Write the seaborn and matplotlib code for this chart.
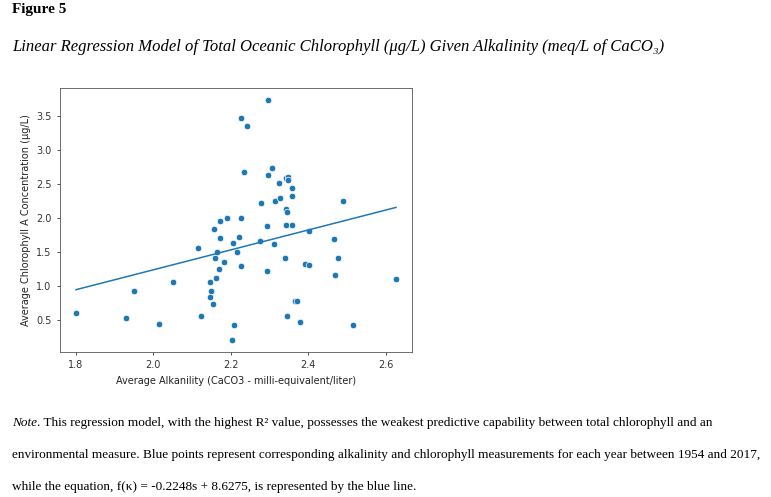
import numpy as np
import pandas as pd
import seaborn as sns
import matplotlib.pyplot as plt

# Alkalinity / chlorophyll readings, one per year
alkalinity = [1.80, 1.93, 1.95, 2.015, 2.05, 2.115, 2.123, 2.156, 2.147, 2.15,
              2.147, 2.153, 2.16, 2.164, 2.163, 2.169, 2.173, 2.173, 2.182, 2.19,
              2.203, 2.205, 2.209, 2.216, 2.221, 2.226, 2.226, 2.226, 2.233, 2.242,
              2.275, 2.279, 2.293, 2.293, 2.295, 2.295, 2.306, 2.311, 2.315, 2.325,
              2.326, 2.342, 2.349, 2.347, 2.342, 2.346, 2.343, 2.359, 2.357, 2.357,
              2.341, 2.345, 2.367, 2.370, 2.378, 2.393, 2.402, 2.403, 2.468, 2.478,
              2.469, 2.491, 2.517, 2.627]
chlorophyll = [0.60, 0.54, 0.93, 0.45, 1.06, 1.56, 0.57, 1.84, 1.07, 0.93,
               0.84, 0.745, 1.42, 1.51, 1.12, 1.25, 1.96, 1.71, 1.35, 2.01,
               0.21, 1.64, 0.43, 1.50, 1.72, 2.00, 1.30, 3.47, 2.68, 3.36,
               1.66, 2.22, 1.88, 1.22, 3.74, 2.63, 2.735, 1.62, 2.26, 2.515,
               2.30, 2.60, 2.61, 2.56, 2.14, 2.09, 1.90, 1.90, 2.44, 2.33,
               1.41, 0.57, 0.79, 0.78, 0.475, 1.33, 1.31, 1.82, 1.70, 1.41,
               1.16, 2.25, 0.43, 1.11]

# regression line end points
line_x = [1.80, 2.627]
line_y = [0.95, 2.16]

df = pd.DataFrame({'alk': alkalinity, 'chl': chlorophyll})
fit = pd.DataFrame({'alk': line_x, 'chl': line_y})

W, H = 771, 497
fig = plt.figure(figsize=(W / 100, H / 100), dpi=100)
ax = fig.add_axes([60 / W, 1 - 352 / H, 352 / W, 264 / H])

sns.scatterplot(data=df, x='alk', y='chl', ax=ax, s=22, color='#1f77b4',
                edgecolor='white', linewidth=0.5)
sns.lineplot(data=fit, x='alk', y='chl', ax=ax, color='#1f77b4', linewidth=1.1)

ax.set_xticks([1.8, 2.0, 2.2, 2.4, 2.6])
ax.set_yticks([0.5, 1.0, 1.5, 2.0, 2.5, 3.0, 3.5])
ax.tick_params(labelsize=7, length=2.5, width=0.6, colors='#333333', labelcolor='#333333')
ax.set_xlabel('Average Alkanility (CaCO3 - milli-equivalent/liter)', fontsize=7, color='#222222')
ax.set_ylabel('Average Chlorophyll A Concentration (\u03bcg/L)', fontsize=7, color='#222222')
for sp in ax.spines.values():
    sp.set_linewidth(0.6)
    sp.set_color('#555555')

serif = ['Liberation Serif', 'DejaVu Serif']
fig.text(12 / W, 1 - 10 / H, 'Figure 5', family=serif, fontsize=11, weight='bold', va='center')
fig.text(12 / W, 1 - 47 / H,
         'Linear Regression Model of Total Oceanic Chlorophyll (\u03bcg/L) Given Alkalinity (meq/L of CaCO\u2083)',
         family=serif, fontsize=12, style='italic', va='center')

note_size = 9.5
renderer = fig.canvas.get_renderer()
t = fig.text(12 / W, 1 - 423 / H, 'Note', family=serif, fontsize=note_size, style='italic', va='center')
bb = t.get_window_extent(renderer)
fig.text(bb.x1 / W, 1 - 423 / H,
         '. This regression model, with the highest R\u00b2 value, possesses the weakest predictive capability between total chlorophyll and an',
         family=serif, fontsize=note_size, va='center')
fig.text(12 / W, 1 - 455 / H,
         'environmental measure. Blue points represent corresponding alkalinity and chlorophyll measurements for each year between 1954 and 2017,',
         family=serif, fontsize=note_size, va='center')
fig.text(12 / W, 1 - 487 / H,
         'while the equation, f(\u03ba) = -0.2248s + 8.6275, is represented by the blue line.',
         family=serif, fontsize=note_size, va='center')

fig.savefig('out.png', dpi=100)
